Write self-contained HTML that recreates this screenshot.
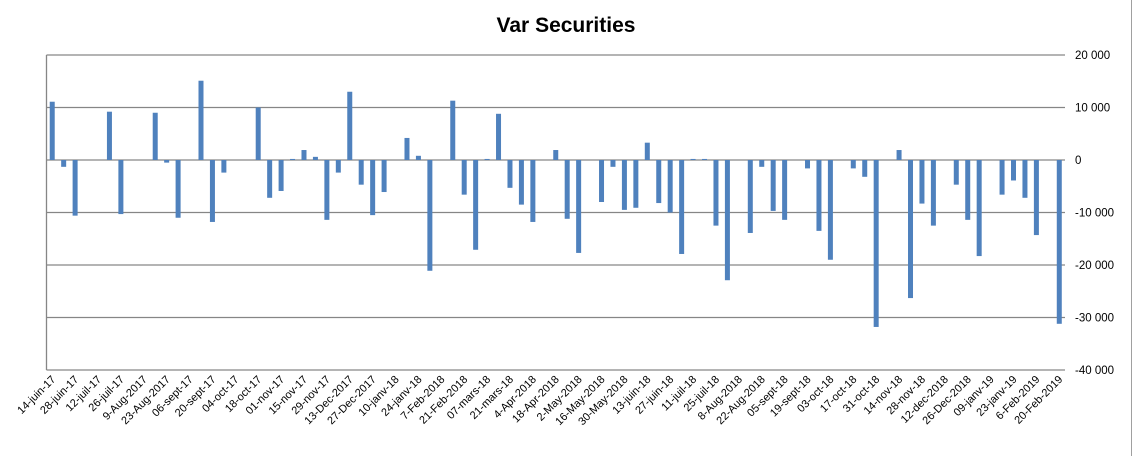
<!DOCTYPE html>
<html><head><meta charset="utf-8"><style>
html,body{margin:0;padding:0;background:#fff;}
svg{display:block;font-family:"Liberation Sans",sans-serif;}
</style></head><body>
<svg id="chart" width="1134" height="468" viewBox="0 0 1134 468" xmlns="http://www.w3.org/2000/svg">
<rect x="0" y="0" width="1134" height="468" fill="#fff"/>
<line x1="1131.5" y1="0" x2="1131.5" y2="456" stroke="#a0a0a0" stroke-width="1"/>
<text x="566" y="32" text-anchor="middle" font-size="21" font-weight="bold" fill="#000">Var Securities</text>
<g id="grid"></g><g id="bars"></g><g id="ylabels"></g><g id="xlabels"></g>
</svg>
<script>
const categories = ["14-juin-17","28-juin-17","12-juil-17","26-juil-17","9-Aug-2017","23-Aug-2017","06-sept-17","20-sept-17","04-oct-17","18-oct-17","01-nov-17","15-nov-17","29-nov-17","13-Dec-2017","27-Dec-2017","10-janv-18","24-janv-18","7-Feb-2018","21-Feb-2018","07-mars-18","21-mars-18","4-Apr-2018","18-Apr-2018","2-May-2018","16-May-2018","30-May-2018","13-juin-18","27-juin-18","11-juil-18","25-juil-18","8-Aug-2018","22-Aug-2018","05-sept-18","19-sept-18","03-oct-18","17-oct-18","31-oct-18","14-nov-18","28-nov-18","12-dec-2018","26-Dec-2018","09-janv-19","23-janv-19","6-Feb-2019","20-Feb-2019"];
const values = [11100,-1300,-10600,0,0,9200,-10300,0,0,9000,-500,-11000,0,15100,-11800,-2400,0,0,10000,-7200,-5900,200,1900,600,-11400,-2400,13000,-4700,-10500,-6100,
0,4200,800,-21100,0,11300,-6600,-17100,200,8800,-5300,-8500,-11800,0,1900,-11200,-17700,0,-8000,-1300,-9500,-9100,3300,-8200,-10000,-17900,200,200,-12500,-22900,
0,-13900,-1300,-9700,-11400,0,-1600,-13500,-19000,0,-1600,-3200,-31800,0,1900,-26300,-8300,-12500,0,-4700,-11400,-18300,0,-6600,-3900,-7200,-14300,0,-31200];
const yTicks = [20000,10000,0,-10000,-20000,-30000,-40000];
const yTickLabels = ["20 000","10 000","0","-10 000","-20 000","-30 000","-40 000"];

const NS="http://www.w3.org/2000/svg";
const L=46.5,R=1065,T=55,B=370,yMax=20000,yMin=-40000;
const n=values.length, W=(R-L)/n;
function y(v){return T+(yMax-v)/(yMax-yMin)*(B-T);}
function x(i){return L+W*(i+0.5);}
function mk(tag,attrs,parent){const e=document.createElementNS(NS,tag);for(const k in attrs)e.setAttribute(k,attrs[k]);parent.appendChild(e);return e;}
const grid=document.getElementById('grid'),bars=document.getElementById('bars'),yl=document.getElementById('ylabels'),xl=document.getElementById('xlabels');
yTicks.forEach((t,k)=>{
  const ln=mk('line',{x1:L,x2:R,y1:y(t),y2:y(t),stroke:'#868686','stroke-width':1.3},grid);
  
  
  const tx=mk('text',{x:1075,y:y(t)+4,'font-size':11.5,fill:'#000'},yl);
  tx.textContent=yTickLabels[k];
  
  
});
const ax=mk('line',{x1:L,x2:L,y1:T,y2:B,stroke:'#868686','stroke-width':1.3},grid);


values.forEach((v,i)=>{
  if(v===0)return;
  const y0=y(0),yv=y(v);
  const r=mk('rect',{x:x(i)-2.5,y:Math.min(y0,yv),width:5,height:Math.abs(yv-y0),fill:'#4f81bd'},bars);
  
  
});
categories.forEach((c,k)=>{
  const i=k*2, px=x(i)+4, py=380;
  const tx=mk('text',{x:px,y:py,'font-size':11,'text-anchor':'end',fill:'#000',transform:`rotate(-45 ${px} ${py})`},xl);
  tx.textContent=c;
  
  
});
</script>
</body></html>
